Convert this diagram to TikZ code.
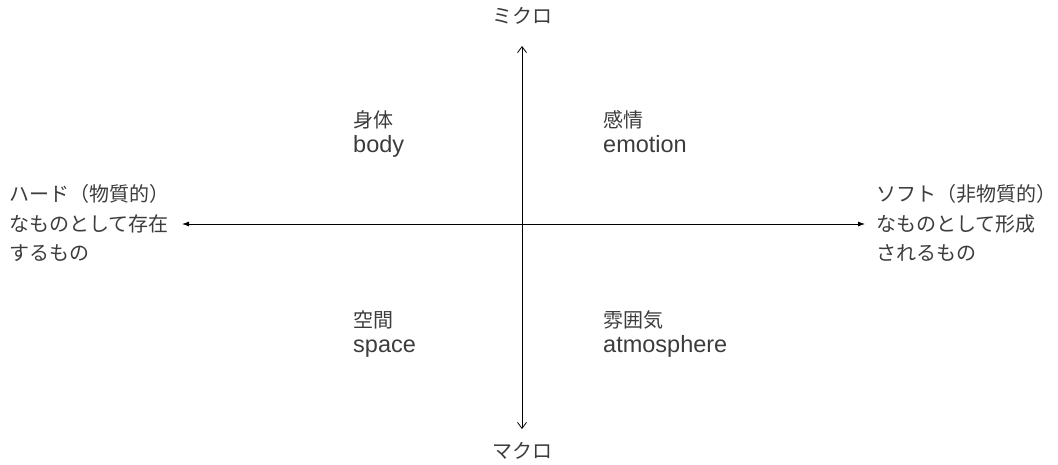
\documentclass[tikz,border=0pt]{standalone}
\usepackage{fontspec}
\setmainfont{Noto Sans CJK JP}
\newfontfamily\latf{Liberation Sans}
\usetikzlibrary{arrows.meta}
\definecolor{txt}{HTML}{3C3C3C}
\tikzset{
  jp/.style={inner sep=0pt, text=txt, font=\fontsize{20}{24}\selectfont, anchor=base west},
  jpc/.style={jp, anchor=base},
  en/.style={inner sep=0pt, text=txt, font=\latf\fontsize{23.5}{27}\selectfont, anchor=base west},
  axis/.style={line width=0.8pt, black},
  vtip/.style={-{Straight Barb[length=6pt,width=9pt]}},
  htip/.style={{Latex[length=7pt,width=5pt]}-{Latex[length=7pt,width=5pt]}}
}
\begin{document}
\begin{tikzpicture}[x=1pt,y=-1pt]
\useasboundingbox (0,0) rectangle (1058,464);
% axis end points
\coordinate (c) at (522,224);
\coordinate (top) at (522,46);
\coordinate (bot) at (522,429);
\coordinate (lft) at (182,224);
\coordinate (rgt) at (865,224);
\draw[axis, vtip] (c) -- (top);
\draw[axis, vtip] (c) -- (bot);
\draw[axis, htip] (lft) -- (rgt);
% axis labels
\node[jpc] (micro) at (522,23) {ミクロ};
\node[jpc] (macro) at (522,458) {マクロ};
\node[jp] (hard1) at (9,201) {ハード（物質的）};
\node[jp] (hard2) at (9,231) {なものとして存在};
\node[jp] (hard3) at (9,260) {するもの};
\node[jp] (soft1) at (876,201) {ソフト（非物質的）};
\node[jp] (soft2) at (876,231) {なものとして形成};
\node[jp] (soft3) at (876,260) {されるもの};
% quadrant labels
\node[jp] (bodyj) at (353,127) {身体};
\node[en] (bodye) at (353,152) {body};
\node[jp] (emoj) at (603,127) {感情};
\node[en] (emoe) at (603,152) {emotion};
\node[jp] (spacej) at (353,327) {空間};
\node[en] (spacee) at (353,352) {space};
\node[jp] (atmj) at (603,327) {雰囲気};
\node[en] (atme) at (603,352) {atmosphere};
\end{tikzpicture}
\end{document}
